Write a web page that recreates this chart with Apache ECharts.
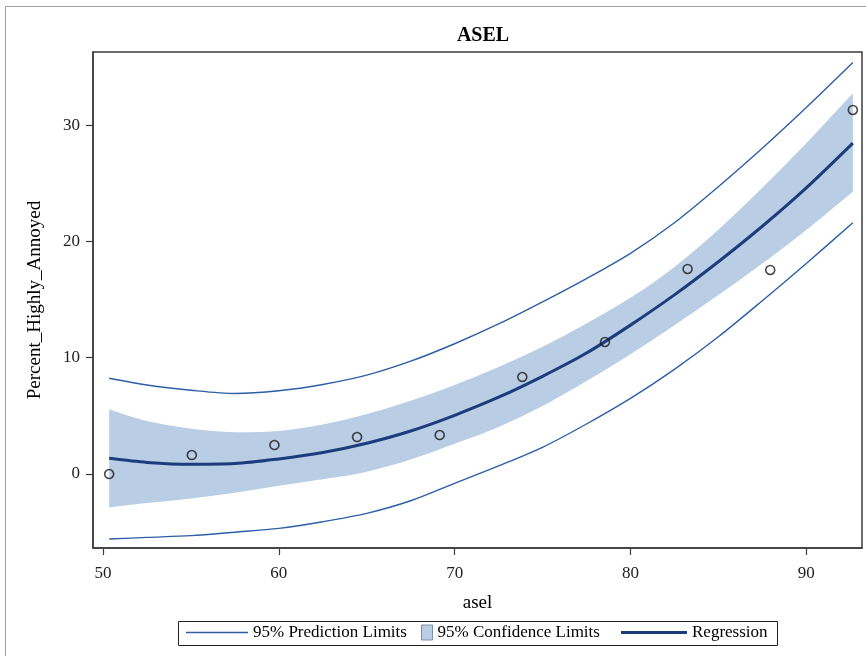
<!DOCTYPE html>
<html>
<head>
<meta charset="utf-8">
<script src="https://cdn.jsdelivr.net/npm/echarts@6/dist/echarts.min.js"></script>
<style>
html,body{margin:0;padding:0;background:#fff;}
#chart{width:866px;height:656px;}
</style>
</head>
<body>
<div id="chart"></div>
<script>
// Observed data points
const aselObs = [50.35, 55.05, 59.75, 64.45, 69.15, 73.85, 78.55, 83.25, 87.95, 92.65];
const annoyedObs = [0, 1.63, 2.49, 3.18, 3.35, 8.34, 11.35, 17.63, 17.54, 31.3];

// Fit curves
const fitX = [50.35, 52.5, 55, 57.5, 60, 62.5, 65, 67.5, 70, 72.5, 75, 77.5, 80, 82.5, 85, 87.5, 90, 92.65];
const regression = [1.35, 1.0, 0.84, 0.9, 1.3, 1.85, 2.65, 3.7, 5.05, 6.6, 8.4, 10.4, 12.8, 15.4, 18.25, 21.3, 24.6, 28.45];
const predUpper = [8.23, 7.65, 7.2, 6.92, 7.16, 7.7, 8.5, 9.7, 11.2, 12.9, 14.8, 16.8, 18.97, 21.6, 24.7, 28.0, 31.5, 35.37];
const predLower = [-5.59, -5.45, -5.3, -5.0, -4.67, -4.1, -3.38, -2.3, -0.8, 0.7, 2.3, 4.3, 6.5, 9.0, 11.8, 14.9, 18.1, 21.6];
const confUpper = [5.56, 4.55, 3.9, 3.6, 3.7, 4.25, 5.15, 6.3, 7.65, 9.2, 10.95, 12.95, 15.15, 17.8, 21.0, 24.6, 28.43, 32.73];
const confLower = [-2.87, -2.5, -2.1, -1.6, -1.0, -0.45, 0.2, 1.25, 2.6, 4.05, 5.85, 8.0, 10.3, 12.8, 15.4, 18.1, 20.98, 24.27];

// Axis ticks
const xTicks = [50, 60, 70, 80, 90];
const yTicks = [0, 10, 20, 30];

const FONT = 'Liberation Serif';
const predColor = '#2d5ea6';
const regColor = '#1d3c7c';
const bandColor = '#b9cde5';

const pairs = (xs, ys) => xs.map((x, i) => [x, ys[i]]);

// Smooth path through pixel points (Catmull-Rom as cubic Bezier segments)
function smoothSegs(pts) {
  let d = '';
  for (let i = 0; i < pts.length - 1; i++) {
    const p0 = pts[Math.max(i - 1, 0)], p1 = pts[i], p2 = pts[i + 1], p3 = pts[Math.min(i + 2, pts.length - 1)];
    const c1x = p1[0] + (p2[0] - p0[0]) / 6, c1y = p1[1] + (p2[1] - p0[1]) / 6;
    const c2x = p2[0] - (p3[0] - p1[0]) / 6, c2y = p2[1] - (p3[1] - p1[1]) / 6;
    d += ' C' + c1x + ',' + c1y + ' ' + c2x + ',' + c2y + ' ' + p2[0] + ',' + p2[1];
  }
  return d;
}

const chart = echarts.init(document.getElementById('chart'), null, {renderer: 'canvas'});
chart.setOption({
  animation: false,
  backgroundColor: '#fff',
  title: {
    text: 'ASEL', left: 478, top: 21, textAlign: 'center',
    textStyle: {fontFamily: FONT, fontWeight: 'bold', fontSize: 20, color: '#000'}
  },
  grid: {left: 93, top: 52, right: 4, bottom: 108, show: true, borderColor: '#3c3c3c', borderWidth: 1.5, backgroundColor: 'transparent'},
  xAxis: {
    type: 'value', min: 49.43, max: 93.17,
    name: 'asel', nameLocation: 'middle', nameGap: 46,
    nameTextStyle: {fontFamily: FONT, fontSize: 19, color: '#000'},
    axisLine: {show: true, onZero: false, lineStyle: {color: '#3c3c3c', width: 1.5}},
    axisTick: {show: true, length: 7, customValues: xTicks, lineStyle: {color: '#3c3c3c', width: 1.2}},
    axisLabel: {customValues: xTicks, margin: 17, fontFamily: FONT, fontSize: 17, color: '#222'},
    splitLine: {show: false}
  },
  yAxis: {
    type: 'value', min: -6.36, max: 36.28,
    name: 'Percent_Highly_Annoyed', nameLocation: 'middle', nameGap: 48,
    nameTextStyle: {fontFamily: FONT, fontSize: 19, color: '#000'},
    axisLine: {show: true, onZero: false, lineStyle: {color: '#3c3c3c', width: 1.5}},
    axisTick: {show: true, length: 7, customValues: yTicks, lineStyle: {color: '#3c3c3c', width: 1.2}},
    axisLabel: {customValues: yTicks, margin: 13, fontFamily: FONT, fontSize: 17, color: '#222'},
    splitLine: {show: false}
  },
  legend: [
    {left: 186, top: 624, padding: 0, itemWidth: 62, itemHeight: 14, itemGap: 0,
     data: [{name: '95% Prediction Limits', icon: 'path://M0,0L64,0L64,1.5L0,1.5Z'}],
     textStyle: {fontFamily: FONT, fontSize: 17, color: '#000'}},
    {left: 421, top: 624, padding: 0, itemWidth: 11, itemHeight: 15, itemGap: 0,
     data: [{name: '95% Confidence Limits', icon: 'rect', itemStyle: {color: bandColor, borderColor: '#7f8fa6', borderWidth: 1}}],
     textStyle: {fontFamily: FONT, fontSize: 17, color: '#000'}},
    {left: 621, top: 624, padding: 0, itemWidth: 66, itemHeight: 14, itemGap: 0,
     data: [{name: 'Regression', icon: 'path://M0,0L66,0L66,3.2L0,3.2Z'}],
     textStyle: {fontFamily: FONT, fontSize: 17, color: '#000'}}
  ],
  graphic: [
    {type: 'rect', silent: true, z: -1, shape: {x: 5.5, y: 6.5, width: 1000, height: 1000}, style: {fill: 'none', stroke: '#a0a0a0', lineWidth: 1}},
    {type: 'rect', silent: true, shape: {x: 178.5, y: 621.5, width: 599, height: 24}, style: {fill: 'none', stroke: '#222', lineWidth: 1}}
  ],
  series: [
    {
      name: '95% Confidence Limits', type: 'custom', color: bandColor,
      data: fitX.map((x, i) => [x, confLower[i], confUpper[i]]),
      encode: {x: 0, y: [1, 2]},
      renderItem: function (params, api) {
        if (params.dataIndex !== 0) return null;
        const top = [], bottom = [];
        for (let i = 0; i < fitX.length; i++) {
          top.push(api.coord([fitX[i], confUpper[i]]));
          bottom.push(api.coord([fitX[i], confLower[i]]));
        }
        bottom.reverse();
        const d = 'M' + top[0][0] + ',' + top[0][1] + smoothSegs(top) +
          ' L' + bottom[0][0] + ',' + bottom[0][1] + smoothSegs(bottom) + ' Z';
        return {
          type: 'path',
          shape: {pathData: d},
          style: {fill: bandColor, stroke: null}
        };
      },
      z: 1, silent: true
    },
    {
      name: '95% Prediction Limits', type: 'line', data: pairs(fitX, predUpper),
      symbol: 'none', smooth: 0.3, color: predColor, lineStyle: {color: predColor, width: 1.4}, z: 3
    },
    {
      name: '95% Prediction Limits', type: 'line', data: pairs(fitX, predLower),
      symbol: 'none', smooth: 0.3, color: predColor, lineStyle: {color: predColor, width: 1.4}, z: 3
    },
    {
      name: 'Regression', type: 'line', data: pairs(fitX, regression),
      symbol: 'none', smooth: 0.3, color: regColor, lineStyle: {color: regColor, width: 3}, z: 4
    },
    {
      name: 'Observed', type: 'scatter', data: pairs(aselObs, annoyedObs),
      symbol: 'circle', symbolSize: 9,
      itemStyle: {color: 'rgba(255,255,255,0)', borderColor: '#1a1a1a', borderWidth: 1.6}, z: 5
    }
  ]
});
</script>
</body>
</html>
